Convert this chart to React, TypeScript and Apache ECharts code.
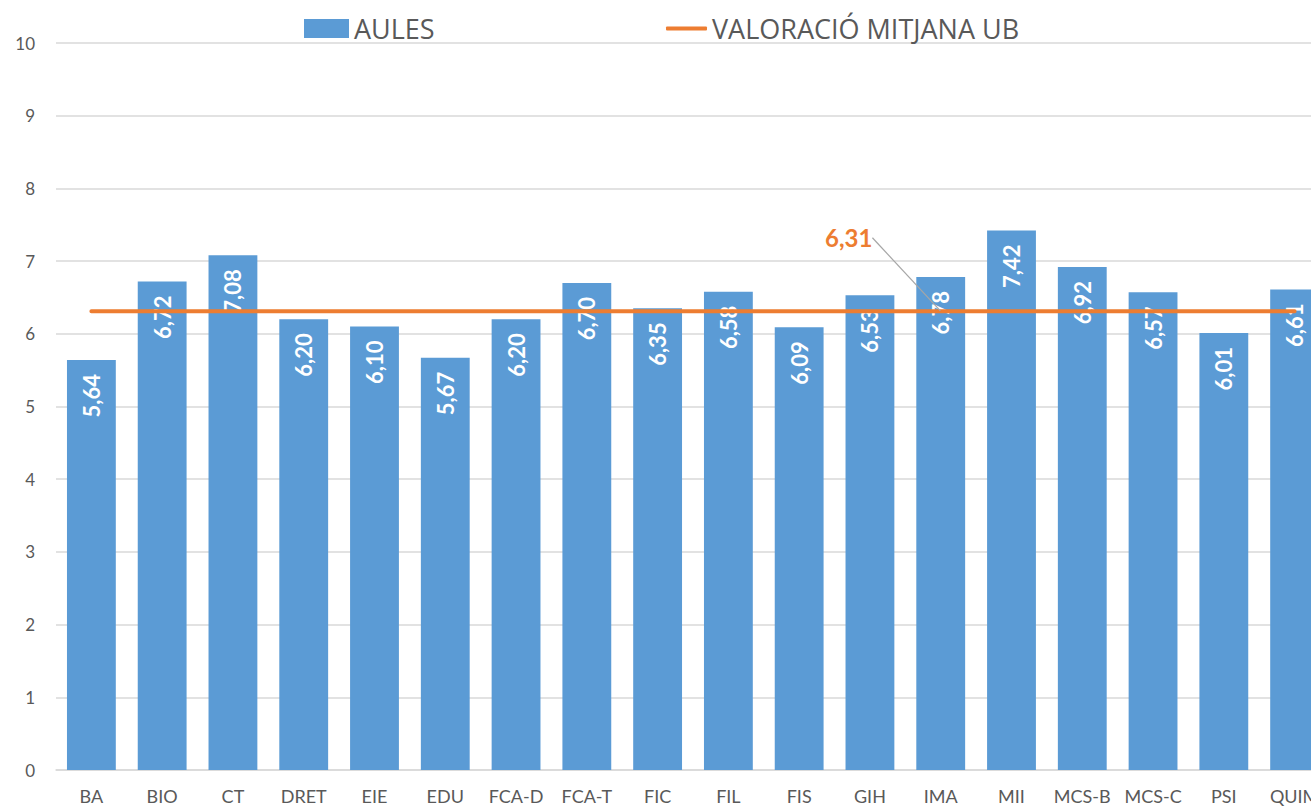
import React, { useEffect, useRef } from "react";
import * as echarts from "echarts";

const categories = ["BA", "BIO", "CT", "DRET", "EIE", "EDU", "FCA-D", "FCA-T", "FIC", "FIL", "FIS", "GIH", "IMA", "MII", "MCS-B", "MCS-C", "PSI", "QUIM"];
const aules = [5.64, 6.72, 7.08, 6.2, 6.1, 5.67, 6.2, 6.7, 6.35, 6.58, 6.09, 6.53, 6.78, 7.42, 6.92, 6.57, 6.01, 6.61];
const mitjanaUB = 6.31;
const labelledCategory = "IMA";
const yTicks = { min: 0, max: 10, interval: 1 };

const FONT = "Lato, 'Open Sans', sans-serif";
const LEGEND_FONT = "'Open Sans', Lato, sans-serif";
const fmt = (v: number) => v.toFixed(2).replace(".", ",");

export default function App() {
  const ref = useRef<HTMLDivElement>(null);
  useEffect(() => {
    document.body.style.margin = "0";
    document.body.style.overflow = "hidden";
    const chart = echarts.init(ref.current!, null, { renderer: "svg" });
    const labelIdx = categories.indexOf(labelledCategory);
    const lineData = categories.map((c) =>
      c === labelledCategory
        ? {
            value: mitjanaUB,
            symbol: "circle",
            symbolSize: 1,
            label: {
              show: true,
              formatter: () => fmt(mitjanaUB),
              color: "#ED7D31",
              fontWeight: "bold",
              fontSize: 24,
              fontFamily: FONT,
              position: "top",
            },
            labelLine: { show: true, lineStyle: { color: "#A6A6A6", width: 1.2 } },
          }
        : mitjanaUB
    );
    const legendText = { fontSize: 27, color: "#595959", fontFamily: LEGEND_FONT };
    chart.setOption({
      animation: false,
      textStyle: { fontFamily: FONT },
      grid: { left: 56, top: 43, bottom: 36, right: 0, containLabel: false },
      legend: [
        {
          left: 304,
          top: 15,
          padding: 0,
          itemWidth: 45,
          itemHeight: 19,
          itemGap: 4,
          textStyle: legendText,
          data: [{ name: "AULES", icon: "rect" }],
        },
        {
          left: 666,
          top: 15,
          padding: 0,
          itemWidth: 41,
          itemHeight: 4,
          textStyle: legendText,
          data: [{ name: "VALORACIÓ MITJANA UB", icon: "roundRect" }],
        },
      ],
      xAxis: {
        type: "category",
        data: categories,
        axisTick: { show: false },
        axisLine: { lineStyle: { color: "#D9D9D9", width: 1.5 } },
        axisLabel: { color: "#595959", fontSize: 18, margin: 17, interval: 0 },
      },
      yAxis: {
        type: "value",
        min: yTicks.min,
        max: yTicks.max,
        interval: yTicks.interval,
        axisLine: { show: false },
        axisTick: { show: false },
        axisLabel: { color: "#595959", fontSize: 17, margin: 21 },
        splitLine: { lineStyle: { color: "#D9D9D9", width: 1.5 } },
      },
      series: [
        {
          name: "AULES",
          type: "bar",
          data: aules,
          barCategoryGap: "31%",
          itemStyle: { color: "#5B9BD5" },
          z: 2,
          label: {
            show: true,
            position: "insideTop",
            rotate: 90,
            align: "right",
            verticalAlign: "middle",
            distance: 14,
            color: "#FFFFFF",
            fontWeight: "bold",
            fontSize: 22,
            fontFamily: FONT,
            formatter: (p: any) => fmt(p.value),
          },
        },
        {
          name: "VALORACIÓ MITJANA UB",
          type: "line",
          data: lineData,
          symbol: "none",
          z: 3,
          lineStyle: { color: "#ED7D31", width: 4, cap: "round" },
          itemStyle: { color: "#ED7D31" },
          labelLayout: (params: any) =>
            params.dataIndex === labelIdx ? { dx: -92, dy: -56 } : {},
        },
      ],
    });
    return () => chart.dispose();
  }, []);
  return (
    <div style={{ width: 1311, height: 806, overflow: "hidden" }}>
      <div ref={ref} style={{ width: 1330, height: 806 }} />
    </div>
  );
}
